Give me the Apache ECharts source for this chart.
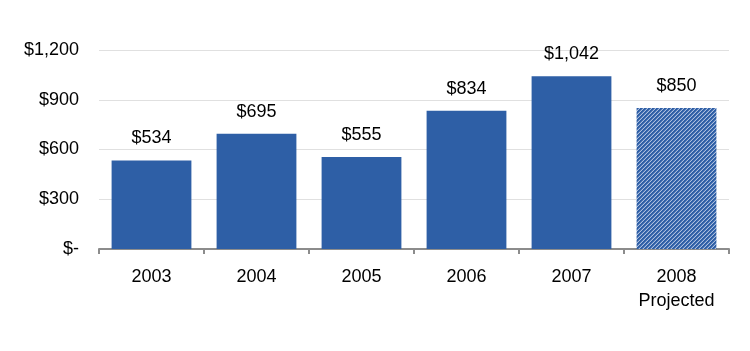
<!DOCTYPE html>
<html><head><meta charset="utf-8">
<script src="https://cdn.jsdelivr.net/npm/echarts@6/dist/echarts.min.js"></script>
<style>html,body{margin:0;padding:0;background:#fff}#c{width:750px;height:351px}</style>
</head><body><div id="c"></div>
<script>
var categories = ['2003', '2004', '2005', '2006', '2007', '2008\nProjected'];
var values = [534, 695, 555, 834, 1042, 850];
var projected = [false, false, false, false, false, true];
var yTicks = [0, 300, 600, 900, 1200];

var BLUE = '#2E5FA6';
function makePattern() {
  var c = document.createElement('canvas');
  c.width = 4; c.height = 4;
  var g = c.getContext('2d');
  g.fillStyle = BLUE; g.fillRect(0, 0, 4, 4);
  for (var y = 0; y < 4; y++) {
    for (var x = 0; x < 4; x++) {
      if ((x + y) % 4 === 3) { g.fillStyle = '#A9BEDF'; g.fillRect(x, y, 1, 1); }
      else if ((x + y) % 4 === 2) { g.fillStyle = '#5479B5'; g.fillRect(x, y, 1, 1); }
    }
  }
  return c;
}
var pat = makePattern();

function fmt(v) {
  if (v === 0) return '$-';
  return '$' + v.toLocaleString('en-US');
}

var chart = echarts.init(document.getElementById('c'), null, {renderer: 'canvas'});
chart.setOption({
  animation: false,
  textStyle: {fontFamily: 'Liberation Sans, Arial, sans-serif'},
  grid: {left: 99, right: 21, top: 50, bottom: 102, containLabel: false},
  xAxis: {
    type: 'category',
    data: categories,
    axisLine: {lineStyle: {color: '#8c8c8c', width: 2}},
    axisTick: {show: true, length: 5, lineStyle: {color: '#8c8c8c', width: 2}},
    axisLabel: {color: '#000', fontSize: 18, margin: 16, lineHeight: 24}
  },
  yAxis: {
    type: 'value', min: 0, max: 1200, interval: 300,
    axisLine: {show: false}, axisTick: {show: false},
    splitLine: {lineStyle: {color: '#e0e0e0', width: 1}},
    axisLabel: {color: '#000', fontSize: 18, margin: 20, formatter: fmt}
  },
  series: [{
    type: 'bar',
    barWidth: '76%',
    data: values.map(function (v, i) {
      return {value: v, itemStyle: {color: projected[i] ? {image: pat, repeat: 'repeat'} : BLUE}};
    }),
    label: {show: true, position: 'top', distance: 13, color: '#000', fontSize: 18, formatter: function (p) { return fmt(p.value); }}
  }]
});
</script></body></html>
